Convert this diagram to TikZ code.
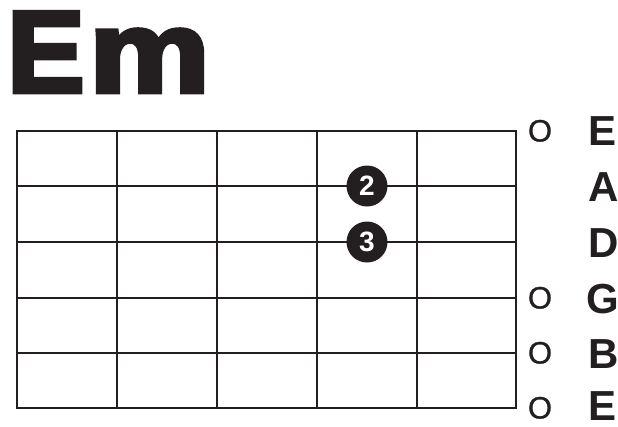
\documentclass[tikz,border=0pt]{standalone}
\usepackage{fontspec}
\setmainfont{Liberation Sans}
\newfontfamily\heavyfont{Liberation Sans}[BoldFeatures={FakeBold=4}]
\newfontfamily\markfont{Liberation Sans}[FakeBold=0.8]
\definecolor{ink}{HTML}{231F20}
\tikzset{
  gridline/.style={draw=ink, line width=2.2pt},
  fingerdot/.style={circle, fill=ink, minimum size=41pt, inner sep=0pt, text=white, font=\fontsize{28}{28}\selectfont\bfseries},
  openmark/.style={anchor=base, text=ink, inner sep=0pt, font=\markfont\fontsize{31}{31}\selectfont},
  stringname/.style={anchor=base west, text=ink, inner sep=0pt, font=\fontsize{42}{42}\selectfont\bfseries},
  title/.style={anchor=base west, text=ink, inner sep=0pt, font=\heavyfont\bfseries\fontsize{116}{116}\selectfont}
}
\begin{document}
\begin{tikzpicture}[x=1pt,y=-1pt]
\useasboundingbox (0,0) rectangle (618,426);
\fill[white] (0,0) rectangle (618,426);
\node[title] (chordE) at (7,92) {E};
\node[title] (chordm) at (89,92) {\scalebox{1.17}[1]{m}};
\foreach \x in {117,217,317,417}
  \draw[gridline] (\x,131) -- (\x,408);
\foreach \y in {186,242,298,353}
  \draw[gridline] (17,\y) -- (516,\y);
\draw[gridline] (17,131) rectangle (516,408);
\node[fingerdot] (f2) at (367,186) {2};
\node[fingerdot] (f3) at (367,242) {3};
\node[openmark] (o1) at (540,141.5) {O};
\node[openmark] (o4) at (540,308.5) {O};
\node[openmark] (o5) at (540,363.5) {O};
\node[openmark] (o6) at (540,418.5) {O};
\node[stringname] (s1) at (588,145) {E};
\node[stringname] (s2) at (588,201) {A};
\node[stringname] (s3) at (588,257) {D};
\node[stringname] (s4) at (586,313) {G};
\node[stringname] (s5) at (588,368) {B};
\node[stringname] (s6) at (588,420) {E};
\end{tikzpicture}
\end{document}
